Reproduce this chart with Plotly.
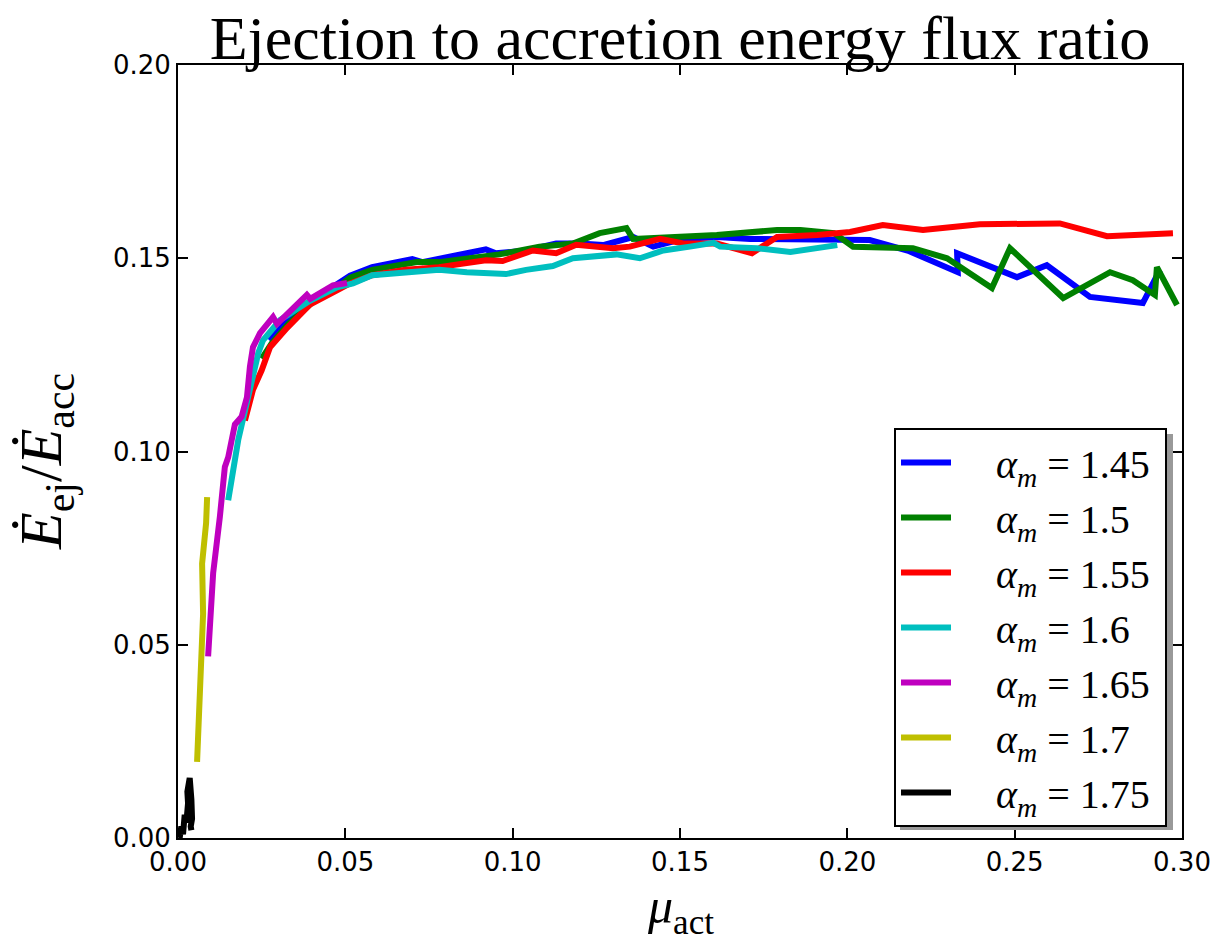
import plotly.graph_objects as go

# ---- data ----
labels = ["1.45", "1.5", "1.55", "1.6", "1.65", "1.7", "1.75"]
colors = ["#0000ff", "#008000", "#ff0000", "#00bfbf", "#bf00bf", "#bfbf00", "#000000"]

x_145 = [0.027, 0.033, 0.040, 0.047, 0.0514, 0.058, 0.064, 0.070, 0.073, 0.078, 0.0863, 0.092, 0.095,
         0.104, 0.113, 0.120, 0.127, 0.136, 0.142, 0.151, 0.161, 0.171, 0.181, 0.194, 0.1985, 0.2067,
         0.218, 0.233, 0.2328, 0.2507, 0.2596, 0.2725, 0.2883, 0.2934]
y_145 = [0.129, 0.134, 0.139, 0.143, 0.1455, 0.1477, 0.1487, 0.1498, 0.149, 0.150, 0.1513, 0.1523, 0.1513,
         0.152, 0.1538, 0.1538, 0.1534, 0.1555, 0.153, 0.155, 0.1555, 0.155, 0.155, 0.155, 0.1547, 0.1547,
         0.152, 0.1464, 0.1513, 0.1451, 0.1482, 0.140, 0.1384, 0.147]

x_150 = [0.025, 0.028, 0.033, 0.040, 0.047, 0.0514, 0.058, 0.0714, 0.078, 0.088, 0.096, 0.108, 0.118,
         0.126, 0.134, 0.136, 0.146, 0.161, 0.179, 0.186, 0.196, 0.2017, 0.2196, 0.2298, 0.2432, 0.2486,
         0.2645, 0.2785, 0.2853, 0.2919, 0.2925, 0.2985]
y_150 = [0.124, 0.128, 0.133, 0.1385, 0.142, 0.145, 0.147, 0.149, 0.149, 0.150, 0.151, 0.153, 0.1538,
         0.1565, 0.1578, 0.155, 0.1555, 0.156, 0.1573, 0.1573, 0.1565, 0.153, 0.1526, 0.150, 0.1423, 0.1526,
         0.1397, 0.1464, 0.1443, 0.1405, 0.1477, 0.1379]

x_155 = [0.020, 0.0224, 0.025, 0.0275, 0.0326, 0.0394, 0.0475, 0.0514, 0.058, 0.068, 0.078, 0.0863, 0.092,
         0.097, 0.106, 0.113, 0.119, 0.130, 0.135, 0.144, 0.151, 0.161, 0.1715, 0.179, 0.191, 0.2008,
         0.2077, 0.2106, 0.2226, 0.2396, 0.2635, 0.2776, 0.2973]
y_155 = [0.108, 0.116, 0.121, 0.127, 0.132, 0.138, 0.1417, 0.1435, 0.1456, 0.147, 0.1477, 0.149, 0.1495,
         0.1493, 0.152, 0.1513, 0.1535, 0.1526, 0.153, 0.155, 0.1538, 0.1538, 0.1513, 0.1555, 0.156, 0.1568,
         0.1578, 0.1586, 0.1573, 0.1588, 0.159, 0.1557, 0.1565]

x_160 = [0.015, 0.018, 0.024, 0.0254, 0.0305, 0.0394, 0.0475, 0.0523, 0.058, 0.068, 0.078, 0.0863, 0.0923,
         0.098, 0.104, 0.112, 0.118, 0.123, 0.131, 0.138, 0.145, 0.153, 0.160, 0.162, 0.173, 0.183, 0.191,
         0.197]
y_160 = [0.0874, 0.103, 0.1255, 0.1288, 0.134, 0.139, 0.1425, 0.1435, 0.1456, 0.1464, 0.147, 0.1464, 0.146,
         0.1459, 0.147, 0.148, 0.150, 0.1503, 0.151, 0.150, 0.152, 0.153, 0.154, 0.153, 0.1526, 0.1516,
         0.1526, 0.1534]

x_165 = [0.009, 0.0105, 0.0125, 0.014, 0.015, 0.017, 0.019, 0.0206, 0.0215, 0.0224, 0.0245, 0.0275,
         0.0284, 0.0296, 0.0385, 0.0395, 0.0463, 0.0505]
y_165 = [0.047, 0.0685, 0.083, 0.096, 0.0985, 0.107, 0.109, 0.114, 0.122, 0.127, 0.1306, 0.134,
         0.1348, 0.133, 0.1405, 0.1395, 0.143, 0.1436]

x_170 = [0.0057, 0.0066, 0.0075, 0.0072, 0.0078, 0.0084, 0.0087]
y_170 = [0.0197, 0.040, 0.058, 0.071, 0.075, 0.0815, 0.0882]

x_175 = [0.0005, 0.0010, 0.0015, 0.0020, 0.0025, 0.0030, 0.0028, 0.0035, 0.0040, 0.0042, 0.0038, 0.0040]
y_175 = [0.0000, 0.0030, 0.0010, 0.0060, 0.0040, 0.0090, 0.0120, 0.0155, 0.0100, 0.0050, 0.0030, 0.0020]

xs = [x_145, x_150, x_155, x_160, x_165, x_170, x_175]
ys = [y_145, y_150, y_155, y_160, y_165, y_170, y_175]

x_ticks = [0.00, 0.05, 0.10, 0.15, 0.20, 0.25, 0.30]
y_ticks = [0.00, 0.05, 0.10, 0.15, 0.20]

W, H = 1227, 942
L, R, T, B = 178, 1182, 65, 838  # plot area in pixels


def px2paper(px, py):
    return (px - L) / (R - L), (B - py) / (B - T)


fig = go.Figure()
pad = "\u00a0" * 4
for i, lab in enumerate(labels):
    fig.add_trace(go.Scatter(
        x=xs[i], y=ys[i], mode="lines",
        line=dict(color=colors[i], width=6),
        name=pad + "<i>α</i><sub><i>m</i></sub> = " + lab + "\u00a0",
        legendgroup=lab,
    ))

# legend shadow
sx0, sy0 = px2paper(900, 830)
sx1, sy1 = px2paper(1173, 434)
fig.add_shape(type="rect", xref="paper", yref="paper", x0=sx0, y0=sy0, x1=sx1, y1=sy1,
              fillcolor="#999999", line=dict(width=0), layer="above")

lx, ly = px2paper(1167, 428)
fig.update_layout(
    width=W, height=H,
    margin=dict(l=L, r=W - R, t=T, b=H - B),
    paper_bgcolor="white", plot_bgcolor="white",
    font=dict(family="DejaVu Sans", color="black"),
    title=dict(text="Ejection to accretion energy flux ratio", x=(L + R) / 2 / W, xanchor="center",
               y=1 - 37 / H, yanchor="middle", yref="container",
               font=dict(family="Liberation Serif", size=62, color="black")),
    showlegend=True,
    legend=dict(x=lx, y=ly, xanchor="right", yanchor="top",
                bgcolor="white", bordercolor="black", borderwidth=2,
                font=dict(family="Liberation Serif", size=40, color="black"),
                tracegroupgap=0, itemwidth=50),
    xaxis=dict(range=[0, 0.30], tickvals=x_ticks, ticktext=[f"{v:.2f}" for v in x_ticks],
               ticks="inside", ticklen=10, tickwidth=1.5, tickcolor="black",
               showline=True, linecolor="black", linewidth=2, mirror="allticks",
               showgrid=False, zeroline=False, tickfont=dict(size=26, family="DejaVu Sans")),
    yaxis=dict(range=[0, 0.20], tickvals=y_ticks, ticktext=[f"{v:.2f}" for v in y_ticks],
               ticks="inside", ticklen=10, tickwidth=1.5, tickcolor="black",
               showline=True, linecolor="black", linewidth=2, mirror="allticks",
               showgrid=False, zeroline=False, tickfont=dict(size=26, family="DejaVu Sans")),
)

ax, ay = px2paper(680, 910)
fig.add_annotation(text="<i>μ</i><sub>act</sub>", xref="paper", yref="paper", x=ax, y=ay,
                   showarrow=False, xanchor="center", yanchor="middle",
                   font=dict(family="Liberation Serif", size=50, color="black"))
bx, by = px2paper(46, 462)
fig.add_annotation(text="<i>E\u0307</i><sub>ej</sub>/<i>E\u0307</i><sub>acc</sub>", xref="paper", yref="paper",
                   x=bx, y=by, showarrow=False, textangle=-90, xanchor="center", yanchor="middle",
                   font=dict(family="Liberation Serif", size=60, color="black"))

fig.write_html("out.html")
